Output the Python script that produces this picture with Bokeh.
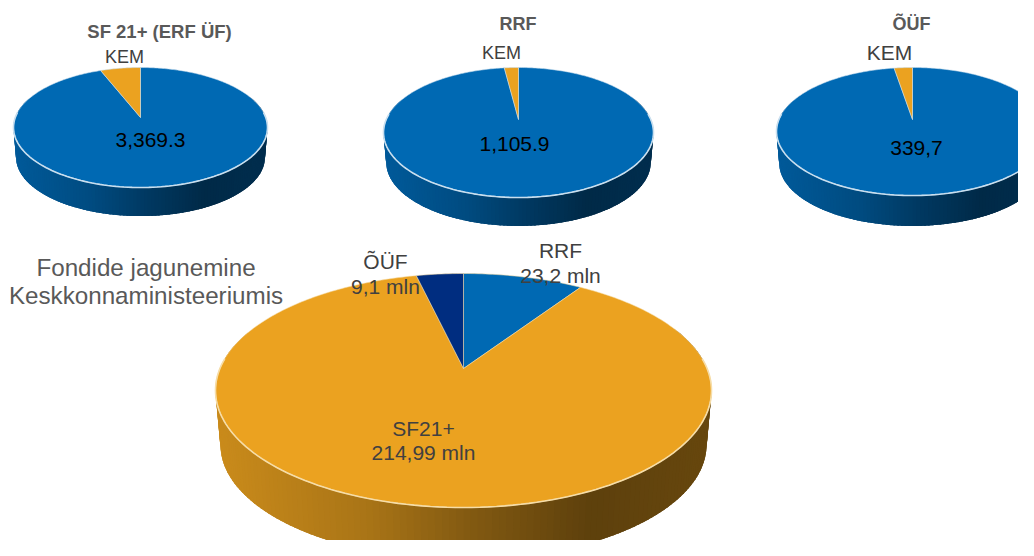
import math
from bokeh.plotting import figure
from bokeh.models import Range1d
from bokeh.core.properties import value
from bokeh.embed import file_html
from bokeh.resources import INLINE

# ---- data ----
sf_labels = ["SF 21+ (ERF ÜF)", "KEM", "3,369.3"]
sf_values = [3369.3, 214.99]
rrf_labels = ["RRF", "KEM", "1,105.9"]
rrf_values = [1105.9, 23.2]
ouf_labels = ["ÕÜF", "KEM", "339,7"]
ouf_values = [339.7, 9.1]
fund_names = ["RRF", "SF21+", "ÕÜF"]
fund_values = [23.2, 214.99, 9.1]
fund_labels = ["23,2 mln", "214,99 mln", "9,1 mln"]
heading = ["Fondide jagunemine", "Keskkonnaministeeriumis"]

BLUE, ORANGE, NAVY = "#0069B3", "#EBA220", "#002D80"
FONT = value("Liberation Sans")

p = figure(width=1018, height=540, output_backend="svg", toolbar_location=None,
           x_range=Range1d(0, 1018), y_range=Range1d(540, 0), min_border=0,
           outline_line_color=None, x_axis_type=None, y_axis_type=None)
p.grid.visible = False
p.background_fill_color = "white"
p.border_fill_color = "white"


def shade(hex_colour, t):
    stops = [(0, .86), (.3, .72), (.5, .56), (.75, .40), (1, .44)]
    for (a, ma), (b, mb) in zip(stops, stops[1:]):
        if t <= b:
            m = ma + (mb - ma) * (t - a) / (b - a)
            break
    rgb = [int(hex_colour[i:i + 2], 16) for i in (1, 3, 5)]
    return "#%02x%02x%02x" % tuple(int(c * m) for c in rgb)


def pie(values, colours, cx, apex, top, bottom, half_w, depth, wall, rim):
    ratio = (bottom - apex) / (apex - top)
    k = (ratio - 1) / (ratio + 1)
    A = (apex - top) * (1 + k)
    B = half_w * math.sqrt(1 - k * k)

    def pt(deg, grow=1.0, drop=0.0):
        th = math.radians(deg)
        w = 1 + k * math.cos(th)
        return (cx + grow * B * math.sin(th) / w,
                apex - grow * A * math.cos(th) / w + drop)

    # side wall: strips overlap the next one so that no seams show
    n = 160
    step = 220 / n
    xs, ys, cs = [], [], []
    for i in range(n):
        a = 290 - step * i
        b = a - step * 2.5
        p1, p2, q2, q1 = pt(a), pt(b), pt(b, .98, depth), pt(a, .98, depth)
        xs.append([p1[0], p2[0], q2[0], q1[0]])
        ys.append([p1[1], p2[1], q2[1], q1[1]])
        t = (p1[0] - (cx - half_w)) / (2 * half_w)
        cs.append(shade(wall, min(max(t, 0), 1)))
    p.patches(xs, ys, fill_color=cs, line_color=None)

    # slices on top
    total = sum(values)
    start = 0.0
    for v, c in zip(values, colours):
        sweep = 360 * v / total
        m = max(int(sweep), 2)
        pts = [pt(start + sweep * j / m) for j in range(m + 1)]
        p.patch([cx] + [q[0] for q in pts], [apex] + [q[1] for q in pts],
                fill_color=c, line_color=rim, line_width=1, line_alpha=.55)
        start += sweep

    # bright front rim
    front = [pt(85 + 190 * j / 120) for j in range(121)]
    p.line([q[0] for q in front], [q[1] for q in front], line_color=rim, line_width=1.6)


def label(x, y, text, size, colour, style="normal"):
    p.text([x], [y], text=[text], text_font=FONT, text_font_size=size, text_color=colour,
           text_font_style=style, text_align="center", text_baseline="middle")


pie(sf_values, [BLUE, ORANGE], 140, 117, 67, 187, 127, 30, BLUE, "#C9DFEF")
pie(rrf_values, [BLUE, ORANGE], 518, 119, 67, 197, 135, 30, BLUE, "#C9DFEF")
pie(ouf_values, [BLUE, ORANGE], 912, 119, 67, 195, 136, 32, BLUE, "#C9DFEF")
pie(fund_values, [BLUE, ORANGE, NAVY], 463, 368, 273, 507, 248, 55, ORANGE, "#F6DDA8")

label(159, 30.5, sf_labels[0], "18.5px", "#595959", "bold")
label(124, 56.5, sf_labels[1], "18px", "#404040")
label(150, 139.5, sf_labels[2], "21px", "#000000")
label(517.5, 23, rrf_labels[0], "18px", "#595959", "bold")
label(501, 52.5, rrf_labels[1], "18px", "#404040")
label(514, 143.5, rrf_labels[2], "21px", "#000000")
label(911, 23.5, ouf_labels[0], "18px", "#595959", "bold")
label(889, 51.5, ouf_labels[1], "21px", "#404040")
label(916, 147.5, ouf_labels[2], "21px", "#000000")

label(145.5, 266.5, heading[0], "24.2px", "#595959")
label(145.5, 294.5, heading[1], "24.2px", "#595959")

label(560, 249.5, fund_names[0], "21px", "#404040")
label(560, 274.5, fund_labels[0], "21px", "#404040")
label(423, 427.5, fund_names[1], "21px", "#404040")
label(423, 451.5, fund_labels[1], "21px", "#404040")
label(385, 260.5, fund_names[2], "21px", "#404040")
label(385, 285.5, fund_labels[2], "21px", "#404040")

open("out.html", "w").write(file_html(p, INLINE))
